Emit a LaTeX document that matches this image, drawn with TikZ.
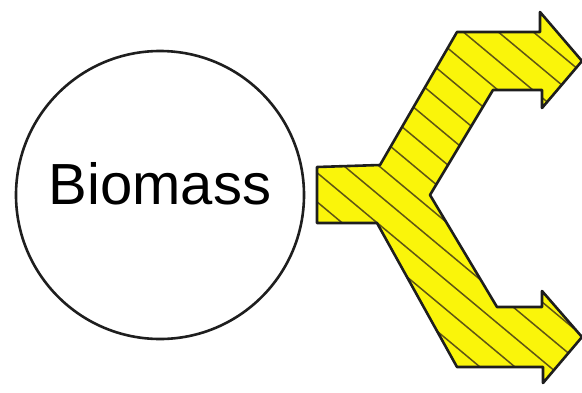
\documentclass[tikz,border=0pt]{standalone}
\usepackage{fontspec}
\setmainfont{Liberation Sans}
\usepackage{tikz}
\usetikzlibrary{positioning}
\definecolor{fuel}{RGB}{250,245,10}
\definecolor{hatchline}{RGB}{95,85,20}
\definecolor{outline}{RGB}{30,30,30}

% outline of the split arrow (pixel coordinates, y downwards)
\newcommand{\splitpath}{(317,167) -- (380,165) -- (457,32) -- (540,32) -- (540,12) -- (582,61) -- (542,108) -- (542,90) -- (493,90) -- (430,195) -- (497,307) -- (542,307) -- (542,291) -- (582,337) -- (543,383) -- (543,367) -- (457,367) -- (377,223) -- (317,223) -- cycle}

\begin{document}
\begin{tikzpicture}[
  x=1pt,y=-1pt,
  biocircle/.style={circle,draw=outline,line width=2.6pt,fill=white,minimum size=288pt,inner sep=0pt},
  biolabel/.style={font=\fontsize{58}{60}\selectfont,inner sep=0pt},
  hatch/.style={hatchline,line width=1.5pt},
  arrowrim/.style={draw=outline,line width=2.6pt,line join=round}
]
\useasboundingbox (0,0) rectangle (582,392);
\node[biocircle] (bio) at (160,195) {};
\node[biolabel] (biotext) at (160,184) {Biomass};
\fill[fuel] \splitpath;
\begin{scope}
\clip \splitpath;
\foreach \x in {-520,-485,...,620}
  \draw[hatch] (\x,0) -- ++(470,392);
\end{scope}
\draw[arrowrim] \splitpath;
\end{tikzpicture}
\end{document}
